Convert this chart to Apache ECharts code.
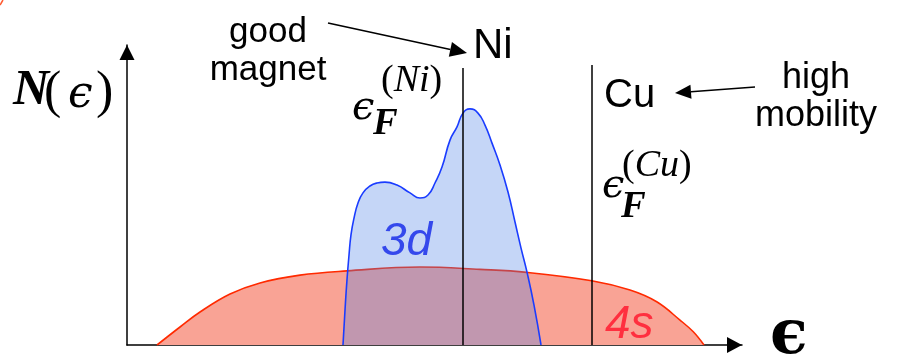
<!DOCTYPE html>
<html><head><meta charset="utf-8">
<script src="https://cdn.jsdelivr.net/npm/echarts@6/dist/echarts.min.js"></script>
<style>html,body{margin:0;padding:0;background:#fff}#c{width:905px;height:361px}</style>
</head><body><div id="c"></div>
<script>
// 4s band density of states (energy, N)
const energy4s = [4.88, 8.62, 11.87, 16.75, 21.63, 28.13, 35.77, 47.64, 57.40, 64.99, 75.56, 81.79, 86.13, 89.92, 92.08, 93.82];
const dos4s    = [0,    6.0,  11.0,  17.0,  20.7,  23.3,  24.7,  26.0,  25.2,  24.2,  21.4,  18.3,  14.4,  8.3,   4.4,   0];
// 3d band density of states
const energy3d = [35.12,35.45,35.77,36.10,36.42,36.91,37.56,38.37,39.51,40.65,41.95,43.90,46.02,47.64,48.94,50.08,51.22,52.52,53.66,54.63,55.77,57.07,58.21,59.35,60.65,61.95,63.09,64.07,65.04,66.18,67.32];
const dos3d    = [0,11.7,21.7,30.0,36.7,42.3,47.3,50.7,53.0,54.0,54.3,53.3,50.7,49.0,50.0,54.0,59.3,68.3,72.7,77.3,78.7,77.3,73.3,67.3,60.0,51.0,41.0,32.3,24.3,13.3,0];
// Fermi levels
const fermiNames = ['Ni', 'Cu'];
const fermiLevels = [54.63, 75.61];
const fermiTops = [92.3, 93.3];

const chart = echarts.init(document.getElementById('c'), null, {renderer: 'canvas'});

function T(text, x, y, font, fill, align, extra) {
  return Object.assign({type: 'text', x: x, y: y, z: 100,
    style: Object.assign({text: text, font: font, fill: fill || '#000',
      textAlign: align || 'left', textVerticalAlign: 'middle'}, extra || {})});
}
function arrow(x1, y1, x2, y2, len, hw) {
  const a = Math.atan2(y2 - y1, x2 - x1);
  const bx = x2 - len * Math.cos(a), by = y2 - len * Math.sin(a);
  const px = -Math.sin(a) * hw, py = Math.cos(a) * hw;
  return [
    {type: 'line', z: 100, shape: {x1: x1, y1: y1, x2: bx, y2: by}, style: {stroke: '#000', lineWidth: 1.6}},
    {type: 'polygon', z: 100, shape: {points: [[x2, y2], [bx + px, by + py], [bx - px, by - py]]}, style: {fill: '#000'}}
  ];
}
const serif = '"Liberation Serif"';
const sans = '"Liberation Sans"';
const dj = '"DejaVu Serif"';
const supRich = {p: {font: '38px ' + serif}, i: {font: 'italic 38px ' + serif}};

const markData = fermiLevels.map((v, i) => [{coord: [v, 0]}, {coord: [v, fermiTops[i]]}]);

chart.setOption({
  animation: false,
  grid: {left: 127, right: 163, top: 45, bottom: 16},
  xAxis: {type: 'value', min: 0, max: 100,
    axisLine: {show: true, onZero: false, symbol: ['none', 'triangle'], symbolSize: [16, 15], symbolOffset: [0, -7.5],
      lineStyle: {color: '#000', width: 1.5}},
    axisTick: {show: false}, axisLabel: {show: false}, splitLine: {show: false}},
  yAxis: {type: 'value', min: 0, max: 100,
    axisLine: {show: true, onZero: false, symbol: ['none', 'triangle'], symbolSize: [15, 15], symbolOffset: [0, -7.5],
      lineStyle: {color: '#000', width: 1.5}},
    axisTick: {show: false}, axisLabel: {show: false}, splitLine: {show: false}},
  series: [
    {name: '4s', type: 'line', smooth: 0.4, showSymbol: false, z: 2,
      data: energy4s.map((e, i) => [e, dos4s[i]]),
      lineStyle: {color: '#ff2a00', width: 1.6},
      areaStyle: {color: '#f9a395', opacity: 1}},
    {name: '3d', type: 'line', smooth: 0.5, showSymbol: false, z: 3,
      data: energy3d.map((e, i) => [e, dos3d[i]]),
      lineStyle: {color: '#1a3cff', width: 1.6},
      areaStyle: {color: 'rgba(75,128,231,0.32)', opacity: 1}},
    {name: 'fermi', type: 'line', data: [], z: 4,
      markLine: {silent: true, symbol: ['none', 'none'], label: {show: false},
        lineStyle: {color: '#000', width: 1.5, type: 'solid'}, data: markData}}
  ],
  graphic: [
    {type: 'line', z: 100, shape: {x1: 0, y1: 5, x2: 3, y2: 0}, style: {stroke: '#ff5a30', lineWidth: 1.5}},
    T('N', 13, 91.5, 'italic bold 50px ' + serif),
    T('(', 44, 93.5, '52px ' + serif),
    T('\u03f5', 68, 96, 'italic 44px ' + dj),
    T(')', 96, 93.5, '52px ' + serif),
    // eps_F^(Ni)
    T('\u03f5', 352, 108.5, 'italic 40px ' + dj),
    T('F', 373, 124, 'italic bold 37px ' + serif),
    T('{p|(}{i|Ni}{p|)}', 381, 81.5, '38px ' + serif, '#000', 'left', {rich: supRich}),
    // eps_F^(Cu)
    T('\u03f5', 602, 186.5, 'italic 40px ' + dj),
    T('F', 621, 207, 'italic bold 37px ' + serif),
    T('{p|(}{i|Cu}{p|)}', 622, 166, '38px ' + serif, '#000', 'left', {rich: supRich}),
    T('good\nmagnet', 268, 51.5, '35px ' + sans, '#000', 'center', {lineHeight: 38}),
    T(fermiNames[0], 473, 46, '42px ' + sans),
    T(fermiNames[1], 604, 95.6, '40px ' + sans),
    T('high\nmobility', 816, 97.3, '36px ' + sans, '#000', 'center', {lineHeight: 38}),
    T('3d', 381, 242.7, 'italic 46px ' + sans, '#3448ec'),
    T('4s', 605, 325.7, 'italic 46px ' + sans, '#ff2f3f'),
    T('\u03f5', 770, 337, 'bold 62px ' + dj)
  ].concat(arrow(328, 23, 467, 53, 17, 7.5), arrow(755, 87, 675, 93, 16, 7))
});
</script></body></html>
